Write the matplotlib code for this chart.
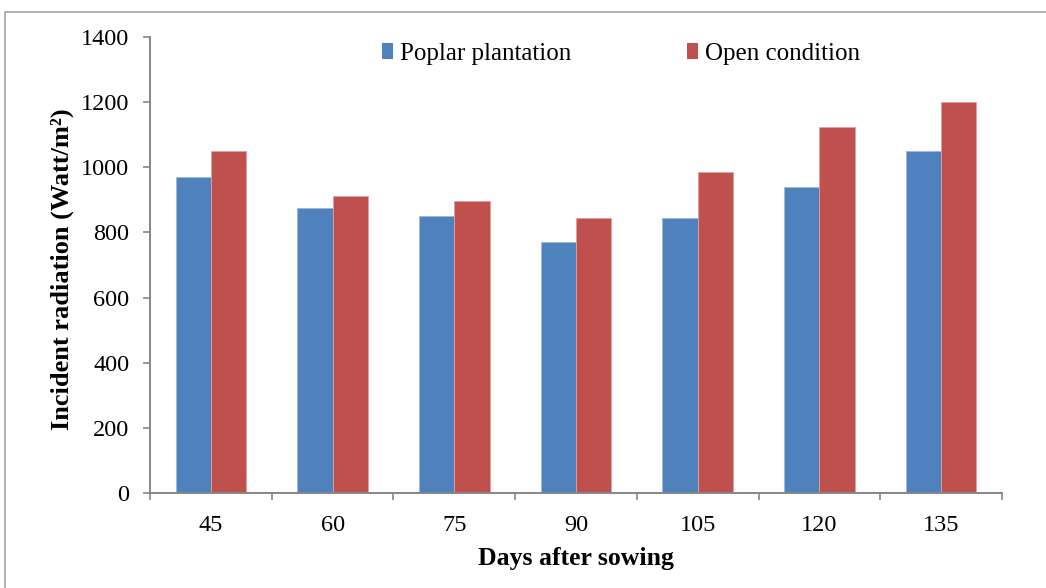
import numpy as np
import matplotlib
matplotlib.use("Agg")
import matplotlib.pyplot as plt
from matplotlib.patches import Rectangle, Patch

plt.rcParams['font.family'] = ['Liberation Serif', 'DejaVu Serif']

days = ["45", "60", "75", "90", "105", "120", "135"]
poplar = [970, 875, 850, 770, 845, 940, 1050]
open_cond = [1050, 912, 896, 843, 985, 1125, 1200]

blue = "#4F81BD"
red = "#C0504D"
axis_grey = "#868686"

fig = plt.figure(figsize=(10.46, 5.88), dpi=100)
ax = fig.add_axes([150/1046, 95/588, 852/1046, 456/588])

x = np.arange(len(days))
w = 0.29
ax.bar(x - w/2, poplar, w, color=blue, edgecolor="#9bb7dc", linewidth=0.6, label="Poplar plantation")
ax.bar(x + w/2, open_cond, w, color=red, edgecolor="#e0a09e", linewidth=0.6, label="Open condition")

ax.set_xlim(-0.5, len(days) - 0.5)
ax.set_ylim(0, 1400)
ax.set_yticks(range(0, 1401, 200))
ax.set_xticks(x)
ax.set_xticklabels(days)
ax.set_xticks(np.arange(-0.5, len(days)), minor=True)
ax.tick_params(axis="x", which="major", length=0, pad=16, labelsize=17.5)
ax.tick_params(axis="x", which="minor", length=5, direction="out", color=axis_grey, width=1.2)
ax.tick_params(axis="y", length=5, direction="out", color=axis_grey, width=1.2, pad=10, labelsize=17.5)

for side in ["top", "right"]:
    ax.spines[side].set_visible(False)
for side in ["left", "bottom"]:
    ax.spines[side].set_color(axis_grey)
    ax.spines[side].set_linewidth(1.4)

ax.set_xlabel("Days after sowing", fontsize=18.5, fontweight="bold", labelpad=8)
ax.set_ylabel("Incident radiation (Watt/m²)", fontsize=19, fontweight="bold")
ax.yaxis.set_label_coords(-0.089, 0.49)

handles = [Patch(facecolor=blue), Patch(facecolor=red)]
ax.legend(handles, ["Poplar plantation", "Open condition"], ncol=2, frameon=False,
          loc="upper left", bbox_to_anchor=(214/852, 1.025), fontsize=18,
          handlelength=0.45, handleheight=0.6, handletextpad=0.3, columnspacing=4.6,
          borderaxespad=0.3)

# outer chart frame
fig.add_artist(Rectangle((5/1046, -0.1), 1.2, 1.1 - 12/588, transform=fig.transFigure,
                         fill=False, edgecolor="#a6a6a6", linewidth=1.2))

fig.savefig("out.png", dpi=100, facecolor="white")
